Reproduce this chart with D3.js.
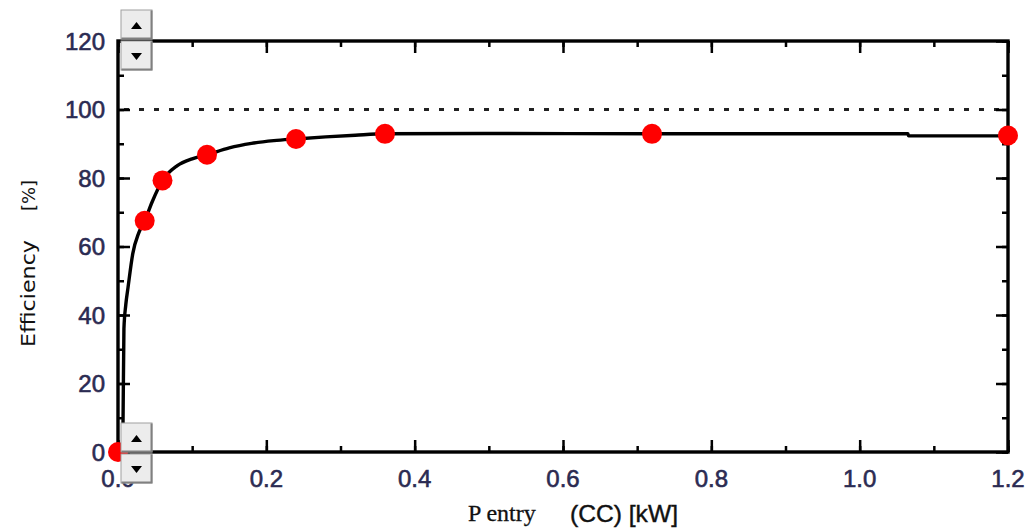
<!DOCTYPE html>
<html><head><meta charset="utf-8">
<script src="https://cdn.jsdelivr.net/npm/d3@7"></script>
<style>body{margin:0;background:#fff}svg{display:block}</style>
</head><body><svg id="c" width="1032" height="532"></svg>
<script>
// Measured points: P entry (kW) vs efficiency (%)
const pointX = [0, 0.036, 0.06, 0.12, 0.24, 0.36, 0.72, 1.2];
const pointY = [0, 67.5, 79.3, 86.8, 91.4, 92.9, 92.9, 92.4];
// Fitted curve
const curveX = [0.006, 0.0068, 0.008, 0.0105, 0.0135, 0.02, 0.028, 0.036, 0.046, 0.06, 0.08, 0.1, 0.12, 0.15, 0.18, 0.21, 0.24, 0.28, 0.32, 0.36, 0.5, 0.72, 0.9, 1.065, 1.066, 1.2];
const curveY = [0, 9, 36, 43, 48, 58, 64, 67.5, 73, 79.3, 83.6, 85.6, 86.8, 88.8, 90.1, 90.9, 91.4, 92.0, 92.5, 92.9, 93.0, 92.9, 92.9, 92.9, 92.3, 92.3];
const xTicks = [0, 0.2, 0.4, 0.6, 0.8, 1.0, 1.2];
const xTickLabels = ["0.0", "0.2", "0.4", "0.6", "0.8", "1.0", "1.2"];
const yTicks = [0, 20, 40, 60, 80, 100, 120];
const refLine = [100];

const svg = d3.select("#c");
const L = 118, R = 1008, T = 41, B = 452;
const x = d3.scaleLinear().domain([0, 1.2]).range([L, R]);
const y = d3.scaleLinear().domain([0, 120]).range([B, T]);
const labelColor = "#2b2b52";

// reference dotted line
svg.selectAll(".ref").data(refLine).enter().append("line")
  .attr("x1", L + 6).attr("x2", R).attr("y1", d => y(d)).attr("y2", d => y(d))
  .attr("stroke", "#222").attr("stroke-width", 2.8).attr("stroke-dasharray", "5,10");

// curve
const pts = curveX.map((v, i) => [v, curveY[i]]);
svg.append("path").datum(pts)
  .attr("d", d3.line().x(d => x(d[0])).y(d => y(d[1])).curve(d3.curveMonotoneX))
  .attr("fill", "none").attr("stroke", "#000").attr("stroke-width", 3.4);

// axes (ticks inside, mirrored)
const minorX = d3.range(0, 1.2001, 0.1);
const minorY = d3.range(0, 120.1, 10);
function axisLines(){
  const g = svg.append("g").attr("stroke", "#000");
  g.append("g").attr("transform", `translate(${L},0)`).call(d3.axisRight(y).tickValues(yTicks).tickSize(12).tickFormat(""));
  g.append("g").attr("transform", `translate(${L},0)`).call(d3.axisRight(y).tickValues(minorY).tickSize(6).tickFormat(""));
  g.append("g").attr("transform", `translate(${R},0)`).call(d3.axisLeft(y).tickValues(yTicks).tickSize(12).tickFormat(""));
  g.append("g").attr("transform", `translate(${R},0)`).call(d3.axisLeft(y).tickValues(minorY).tickSize(6).tickFormat(""));
  g.append("g").attr("transform", `translate(0,${B})`).call(d3.axisTop(x).tickValues(xTicks).tickSize(12).tickFormat(""));
  g.append("g").attr("transform", `translate(0,${B})`).call(d3.axisTop(x).tickValues(minorX).tickSize(6).tickFormat(""));
  g.append("g").attr("transform", `translate(0,${T})`).call(d3.axisBottom(x).tickValues(xTicks).tickSize(12).tickFormat(""));
  g.append("g").attr("transform", `translate(0,${T})`).call(d3.axisBottom(x).tickValues(minorX).tickSize(6).tickFormat(""));
  g.selectAll(".domain").remove();
  g.selectAll("line").attr("stroke", "#000").attr("stroke-width", 2.5);
  svg.append("rect").attr("x", L).attr("y", T).attr("width", R - L).attr("height", B - T)
    .attr("fill", "none").attr("stroke", "#000").attr("stroke-width", 3.4);
}
axisLines();

// tick labels
svg.selectAll(".yl").data(yTicks).enter().append("text")
  .attr("x", 105).attr("y", d => y(d)).attr("dy", "0.36em")
  .attr("text-anchor", "end").attr("font-family", "Liberation Sans, Arial, sans-serif")
  .attr("font-size", 24).attr("fill", labelColor).attr("stroke", labelColor).attr("stroke-width", 0.6)
  .text(d => d);
svg.selectAll(".xl").data(xTicks).enter().append("text")
  .attr("x", d => x(d)).attr("y", 487)
  .attr("text-anchor", "middle").attr("font-family", "Liberation Sans, Arial, sans-serif")
  .attr("font-size", 24).attr("fill", labelColor).attr("stroke", labelColor).attr("stroke-width", 0.6)
  .text((d, i) => xTickLabels[i]);

// points
svg.selectAll(".pt").data(pointX).enter().append("circle")
  .attr("cx", d => x(d)).attr("cy", (d, i) => y(pointY[i])).attr("r", 10)
  .attr("fill", "#ff0000");

// spinner buttons
function spinner(x0, y0, up){
  const g = svg.append("g").attr("transform", `translate(${x0},${y0})`);
  g.append("rect").attr("width", 31).attr("height", 29).attr("fill", "#ececec")
    .attr("stroke", "#a0a0a0").attr("stroke-width", 1);
  g.append("path").attr("d", "M30.5,0.5 V28.5 H0.5").attr("fill", "none").attr("stroke", "#808080").attr("stroke-width", 2);
  g.append("path").attr("d", up ? "M10,19 L21,19 L15.5,12 Z" : "M10,12 L21,12 L15.5,19 Z").attr("fill", "#000");
}
spinner(121, 10, true);
spinner(121, 41, false);
spinner(121, 423, true);
spinner(121, 454, false);

// axis titles
svg.append("text").attr("x", 468).attr("y", 521)
  .attr("font-family", "Liberation Serif, Times New Roman, serif").attr("font-size", 24)
  .attr("fill", "#111").attr("stroke", "#111").attr("stroke-width", 0.3).text("P entry");
svg.append("text").attr("x", 570).attr("y", 522)
  .attr("font-family", "Liberation Sans, Arial, sans-serif").attr("font-size", 24)
  .attr("textLength", 108).attr("lengthAdjust", "spacingAndGlyphs")
  .attr("fill", "#111").attr("stroke", "#111").attr("stroke-width", 0.4).text("(CC) [kW]");
svg.append("text").attr("transform", "translate(35,347) rotate(-90)")
  .attr("font-family", "DejaVu Sans, sans-serif").attr("font-size", 20)
  .attr("textLength", 107).attr("lengthAdjust", "spacingAndGlyphs")
  .attr("fill", "#111").text("Efficiency");
svg.append("text").attr("transform", "translate(35,211) rotate(-90)")
  .attr("font-family", "DejaVu Sans, sans-serif").attr("font-size", 18)
  .attr("textLength", 31).attr("lengthAdjust", "spacingAndGlyphs")
  .attr("fill", "#111").text("[%]");
</script></body></html>
